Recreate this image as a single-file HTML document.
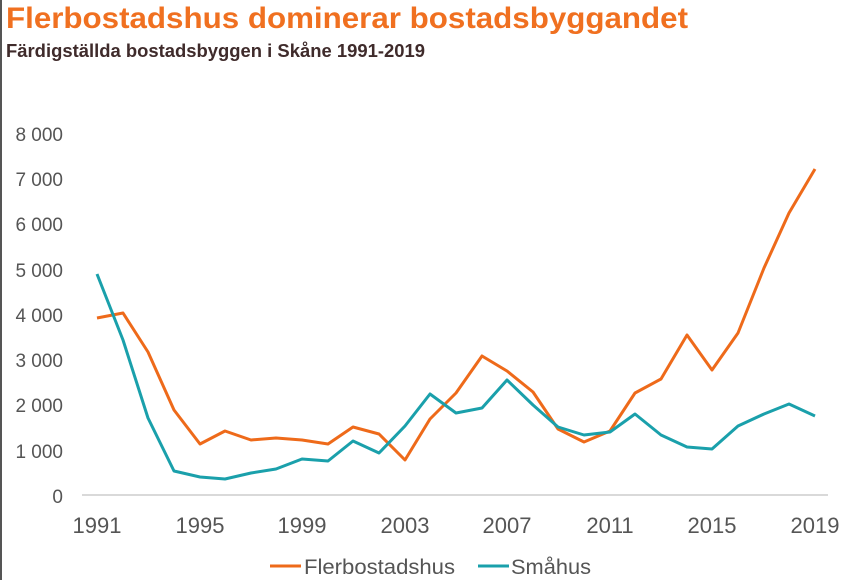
<!DOCTYPE html>
<html><head><meta charset="utf-8"><style>
body{margin:0;background:#fff;}
svg{display:block;font-family:"Liberation Sans",sans-serif;}
</style></head><body>
<svg width="848" height="580" viewBox="0 0 848 580">
<line x1="1" y1="0" x2="1" y2="580" stroke="#555" stroke-width="2"/>
<text x="6" y="28" font-size="30" font-weight="bold" fill="#f07020" textLength="682" lengthAdjust="spacingAndGlyphs">Flerbostadshus dominerar bostadsbyggandet</text>
<text x="6" y="57" font-size="18" font-weight="bold" fill="#3f2b2b" textLength="419" lengthAdjust="spacingAndGlyphs">Färdigställda bostadsbyggen i Skåne 1991-2019</text>
<g font-size="19" fill="#555" text-anchor="end">
<text x="63" y="141">8 000</text>
<text x="63" y="186">7 000</text>
<text x="63" y="231">6 000</text>
<text x="63" y="277">5 000</text>
<text x="63" y="322">4 000</text>
<text x="63" y="367">3 000</text>
<text x="63" y="412">2 000</text>
<text x="63" y="458">1 000</text>
<text x="63" y="503">0</text>
</g>
<line x1="82" y1="495" x2="828" y2="495" stroke="#d9d9d9" stroke-width="2"/>
<g font-size="22" fill="#555" text-anchor="middle">
<text x="97" y="533">1991</text>
<text x="200" y="533">1995</text>
<text x="302" y="533">1999</text>
<text x="405" y="533">2003</text>
<text x="507" y="533">2007</text>
<text x="610" y="533">2011</text>
<text x="712" y="533">2015</text>
<text x="815" y="533">2019</text>
</g>
<polyline fill="none" stroke="#ee6a1a" stroke-width="3" stroke-linejoin="round" points="97,318 123,313 148,352 174,410 200,444 225,431 251,440 276,438 302,440 328,444 353,427 379,434 405,460 430,419 456,393 482,356 507,371 533,392 558,429 584,442 610,431 635,393 661,379 687,335 712,370 738,333 764,268 789,213 815,169"/>
<polyline fill="none" stroke="#1aa0ab" stroke-width="3" stroke-linejoin="round" points="97,274 123,340 148,418 174,471 200,477 225,479 251,473 276,469 302,459 328,461 353,441 379,453 405,426 430,394 456,413 482,408 507,380 533,405 558,427 584,435 610,432 635,414 661,435 687,447 712,449 738,426 764,414 789,404 815,416"/>
<line x1="270" y1="566" x2="301" y2="566" stroke="#ee6a1a" stroke-width="3"/>
<text x="304" y="574" font-size="21" fill="#555" textLength="151" lengthAdjust="spacingAndGlyphs">Flerbostadshus</text>
<line x1="478" y1="566" x2="509" y2="566" stroke="#1aa0ab" stroke-width="3"/>
<text x="511" y="574" font-size="21" fill="#555" textLength="80" lengthAdjust="spacingAndGlyphs">Småhus</text>
</svg>
</body></html>
